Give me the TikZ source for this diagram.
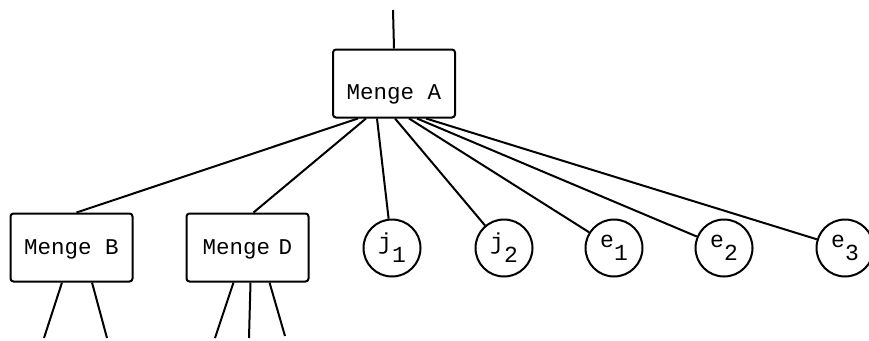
\documentclass[tikz,border=0pt]{standalone}
\usepackage{fontspec}
\setmonofont{Liberation Mono}
\usetikzlibrary{positioning}

% lowered index digit as on the typewriter
\newcommand{\lowidx}[1]{\raisebox{-13pt}{#1}}

\begin{document}
\begin{tikzpicture}[x=1pt, y=-1pt, line width=2pt,
    menge/.style={rectangle, draw, rounded corners=3pt, minimum width=122pt, minimum height=68pt, font=\fontsize{22.5}{26}\ttfamily, text height=14pt, text depth=0pt},
    element/.style={circle, draw, minimum size=57pt, inner sep=0pt, font=\fontsize{23}{26}\ttfamily}]
    \useasboundingbox (0,0) rectangle (869,340);

    \node [menge, text height=31pt] (A) at (394,83.5) {Menge A};
    \node [menge] (B) at (71.5,247.5) {Menge B};
    \node [menge, right=52pt of B] (D) {Menge\kern-5pt{} D};
    \node [element] (j1) at (392,248) {j\lowidx{1}};
    \node [element, right=53pt of j1] (j2) {j\lowidx{2}};
    \node [element, right=51pt of j2] (e1) {e\lowidx{1}};
    \node [element, right=51pt of e1] (e2) {e\lowidx{2}};
    \node [element, right=62pt of e2] (e3) {e\lowidx{3}};

    % free ends of the lines
    \coordinate (top) at (393,10);
    \coordinate (b1) at (44,338);
    \coordinate (b2) at (107,338);
    \coordinate (d1) at (215,338);
    \coordinate (d2) at (249,338);
    \coordinate (d3) at (285,336);

    \draw (A.north) -- (top);
    \draw ([xshift=-36pt]A.south) -- ([xshift=5pt]B.north);
    \draw ([xshift=-28pt]A.south) -- ([xshift=6pt]D.north);
    \draw ([xshift=-17pt]A.south) -- (j1);
    \draw ([xshift=1pt]A.south) -- (j2);
    \draw ([xshift=15pt]A.south) -- (e1);
    \draw ([xshift=23pt]A.south) -- (e2);
    \draw ([xshift=32pt]A.south) -- (e3);

    \draw ([xshift=-9.5pt]B.south) -- (b1);
    \draw ([xshift=20.5pt]B.south) -- (b2);
    \draw ([xshift=-14pt]D.south) -- (d1);
    \draw ([xshift=3pt]D.south) -- (d2);
    \draw ([xshift=22pt]D.south) -- (d3);
\end{tikzpicture}
\end{document}
